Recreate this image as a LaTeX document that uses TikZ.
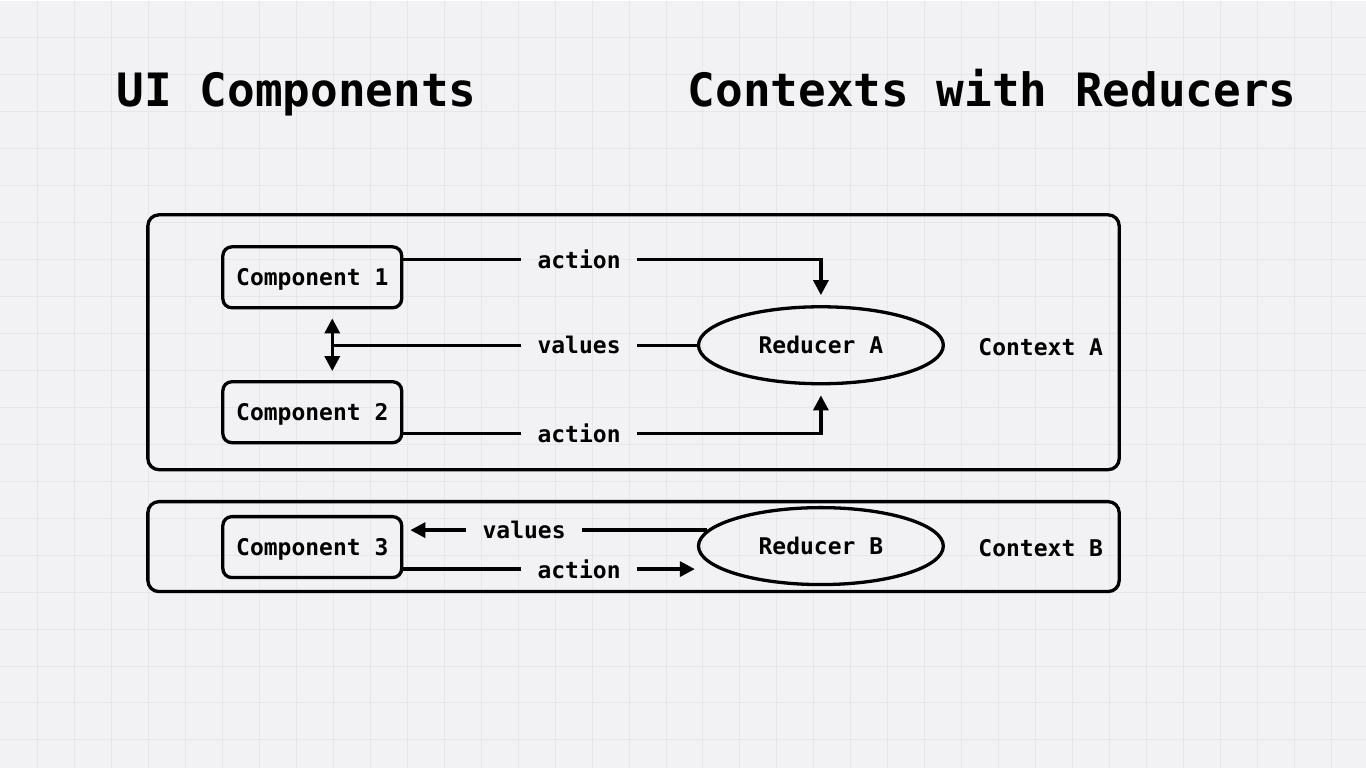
\documentclass[tikz,border=0pt]{standalone}
\usepackage{fontspec}
\setmonofont{DejaVu Sans Mono}
\usepackage{tikz}
\usetikzlibrary{arrows.meta, positioning, calc, shapes.geometric}
\usepackage{xcolor}
\definecolor{paper}{RGB}{242,241,243}
\definecolor{paperline}{RGB}{231,230,232}

\begin{document}
\begin{tikzpicture}[
    x=1pt, y=-1pt,
    every node/.style = {align=center},
    titletext/.style = {font=\ttfamily\bfseries\fontsize{46}{50}\selectfont,
                        inner sep=0pt, anchor=base},
    compbox/.style   = {draw, rounded corners=9pt, line width=3.3pt,
                        minimum width=179pt, minimum height=61pt, text depth=0pt,
                        font=\ttfamily\bfseries\fontsize{23}{27}\selectfont},
    redell/.style    = {draw, ellipse, line width=3.3pt,
                        minimum width=245pt, minimum height=77pt,
                        font=\ttfamily\bfseries\fontsize{23}{27}\selectfont},
    ctxbox/.style    = {draw, rounded corners=11pt, line width=3.3pt},
    ctxlabel/.style  = {font=\ttfamily\bfseries\fontsize{23}{27}\selectfont},
    flowlbl/.style   = {font=\ttfamily\bfseries\fontsize{23}{27}\selectfont,
                        inner xsep=16pt, inner ysep=2pt},
    line/.style      = {line width=3.3pt},
    arr/.style       = {-{Triangle[length=15pt,width=15pt]}, line width=3.3pt},
    biarr/.style     = {{Triangle[length=15pt,width=15pt]}-{Triangle[length=15pt,width=15pt]},
                        line width=3.3pt},
    gridline/.style  = {draw=paperline, line width=1pt},
]

%% Paper
\fill[paper] (0,0) rectangle (1366,768);
\foreach \gx in {37,74,...,1366} \draw[gridline] (\gx,0) -- (\gx,768);
\foreach \gy in {37,74,...,768} \draw[gridline] (0,\gy) -- (1366,\gy);
\useasboundingbox (0,0) rectangle (1366,768);

%% Titles
\node[titletext] (tui)  at (296.5,106) {UI Components};
\node[titletext] (tctx) at (992.5,106) {Contexts with Reducers};

%% Context boxes
\node[ctxbox, minimum width=972pt, minimum height=255pt] (ctxA) at (633.5,342) {};
\node[ctxbox, minimum width=972pt, minimum height=90pt]  (ctxB) at (633.5,546.5) {};
\node[ctxlabel] (lctxA) at (1041,347) {Context A};
\node[ctxlabel] (lctxB) at (1041,548) {Context B};

%% Components
\node[compbox] (c1) at (312,277) {Component 1};
\node[compbox] (c2) at (312,412) {Component 2};
\node[compbox] (c3) at (312,547) {Component 3};

%% Reducers
\node[redell] (rA) at (821,345) {Reducer A};
\node[redell] (rB) at (821,546) {Reducer B};

%% Flow labels
\node[flowlbl] (laA1) at (579,259) {action};
\node[flowlbl] (lvA)  at (579,345) {values};
\node[flowlbl] (laA2) at (579,433) {action};
\node[flowlbl] (lvB)  at (524,530) {values};
\node[flowlbl] (laB)  at (579,569) {action};

%% Context A flow
\coordinate (vjoin) at ([xshift=20pt]c1.south);
\draw[line] (c1.east |- laA1) -- (laA1.west);
\draw[arr, shorten >=10pt] (laA1.east) -| (rA.north);
\draw[line] (c2.east |- laA2) -- (laA2.west);
\draw[arr, shorten >=10pt] (laA2.east) -| (rA.south);
\draw[line] (rA.west) -- (lvA.east);
\draw[line] (lvA.west) -- (lvA.west -| vjoin);
\draw[biarr, shorten <=9pt, shorten >=9pt] (vjoin) -- (vjoin |- c2.north);

%% Context B flow
\draw[line] (lvB.east) -- (lvB.east -| rB.172);
\draw[arr, shorten >=7pt] (lvB.west) -- (lvB.west -| c3.east);
\draw[line] (c3.east |- laB) -- (laB.west);
\draw[arr, shorten >=2pt] (laB.east) -- (laB.east -| rB.west);

\end{tikzpicture}
\end{document}
